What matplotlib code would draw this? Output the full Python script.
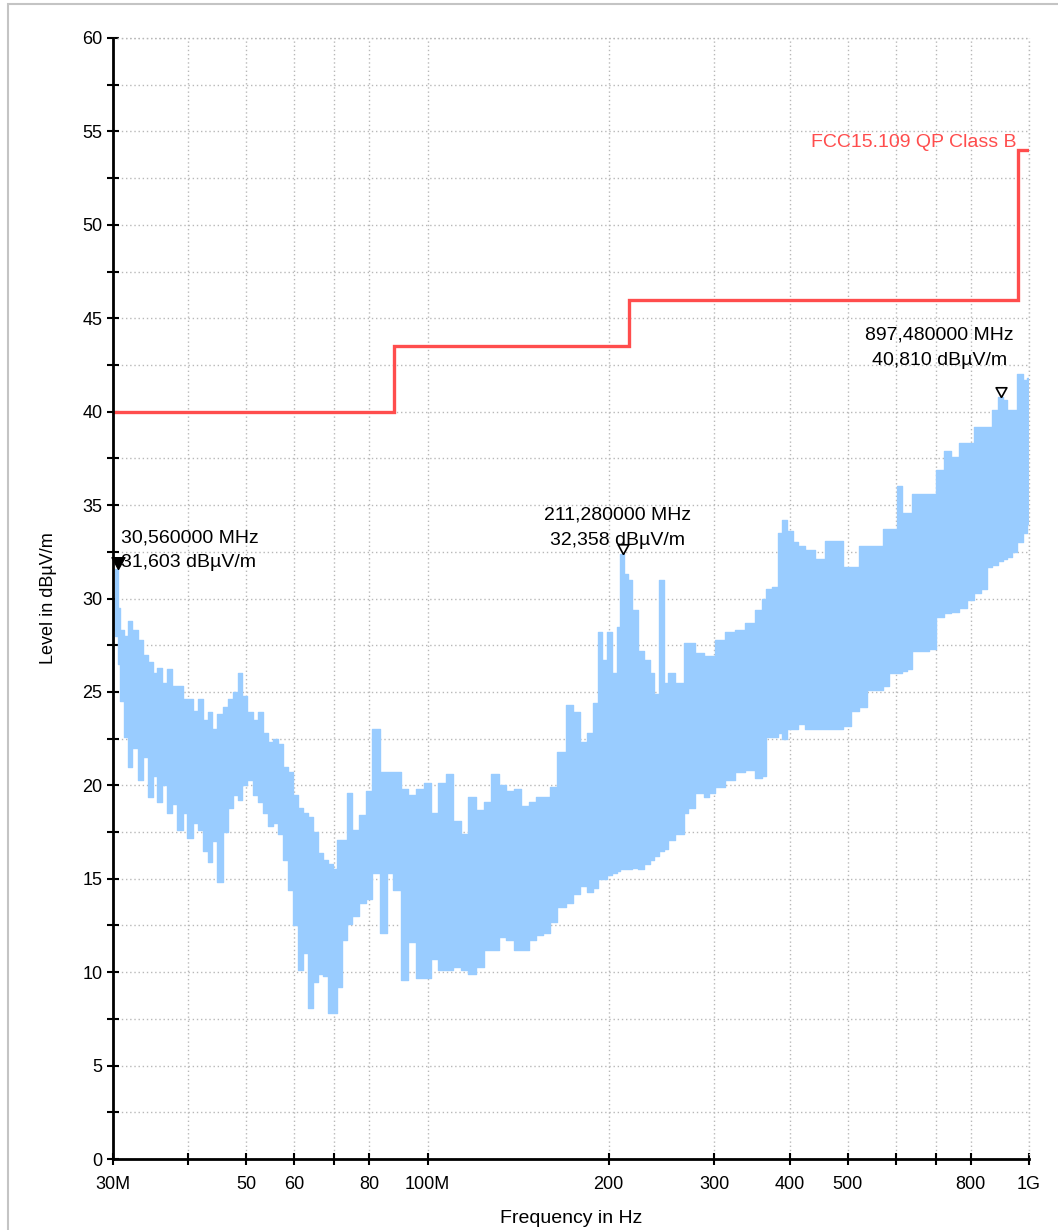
import matplotlib
matplotlib.use("Agg")
import matplotlib.pyplot as plt
from matplotlib.patches import Rectangle
from matplotlib.ticker import FixedLocator, NullFormatter

plt.rcParams['font.family'] = ['Liberation Sans', 'DejaVu Sans']

# ---- data (MHz, dBuV/m) ----
freq_mhz = [30.0, 30.5, 30.6, 31.0, 31.5, 32.0, 32.6, 33.3, 34.0, 34.6, 35.2, 35.9, 36.6, 37.3,
            38.0, 38.8, 39.5, 40.3, 41.1, 41.9, 42.7, 43.5, 44.3, 45.2, 46.1, 47.0, 47.9, 48.8,
            49.7, 50.7, 51.7, 52.7, 53.7, 54.7, 55.8, 56.9, 58.0, 59.1, 60.3, 61.4, 62.6, 63.8,
            65.0, 66.3, 67.6, 68.9, 70.2, 71.0, 72.9, 74.3, 75.7, 78.0, 79.9, 82.1, 84.4, 86.6,
            88.9, 91.7, 94.2, 97.2, 100.1, 102.9, 105.6, 109.0, 111.9, 115.2, 118.4, 122.3, 125.6,
            129.6, 133.2, 137.1, 141.0, 145.6, 149.1, 153.8, 157.9, 162.2, 166.6, 172.6, 176.8,
            181.6, 186.3, 190.2, 193.5, 197.1, 201.0, 205.0, 207.4, 211.28, 213.4, 217.0, 221.3,
            225.6, 231.8, 236.2, 239.0, 246.3, 248.3, 253.0, 262.9, 270.0, 273.1, 283.8, 291.5,
            294.9, 306.4, 318.3, 330.8, 343.7, 357.1, 363.9, 368.2, 378.2, 385.5, 392.9, 400.5,
            411.4, 416.1, 432.4, 449.3, 466.8, 485.0, 497.8, 513.7, 529.8, 544.0, 565.3, 576.2,
            594.6, 610.3, 621.9, 634.0, 646.2, 671.5, 692.4, 711.2, 730.6, 753.3, 776.7, 797.8,
            819.5, 844.9, 861.2, 877.8, 897.48, 912.1, 929.8, 947.7, 966.1, 984.8, 1000.0]
level_hi = [29.9, 31.6, 29.5, 28.3, 28.0, 28.8, 28.3, 27.8, 27.0, 26.6, 26.0, 26.3, 25.5, 26.2,
            25.3, 25.3, 24.6, 24.6, 24.0, 24.6, 23.5, 23.9, 23.0, 23.8, 24.2, 24.6, 25.0, 26.0,
            24.8, 23.9, 23.5, 23.9, 22.8, 22.3, 22.5, 22.2, 21.0, 20.7, 19.5, 18.8, 18.5, 18.3,
            17.5, 16.4, 16.0, 15.8, 15.5, 17.1, 17.1, 19.6, 17.6, 18.4, 19.7, 23.0, 20.7, 20.7,
            20.7, 19.8, 19.5, 19.8, 20.1, 18.5, 20.1, 20.6, 18.1, 17.4, 19.4, 18.7, 19.1,
            20.6, 20.0, 19.7, 19.8, 18.9, 19.1, 19.4, 19.4, 19.9, 21.8, 24.3, 23.9,
            22.3, 22.8, 24.4, 28.2, 26.7, 28.2, 26.0, 28.5, 32.36, 31.3, 31.0, 29.4,
            27.2, 26.7, 26.0, 24.9, 31.0, 25.5, 26.0, 25.5, 27.6, 27.6, 27.1, 26.9,
            26.9, 27.8, 28.2, 28.3, 28.7, 29.4, 30.0, 30.5, 30.6, 33.5, 34.2, 33.6,
            33.0, 32.8, 32.6, 32.1, 33.1, 33.1, 31.7, 31.7, 32.8, 32.8, 32.8, 33.7,
            33.7, 36.0, 34.6, 34.6, 35.6, 35.6, 35.6, 36.9, 37.9, 37.6, 38.3, 38.3,
            39.2, 39.2, 39.2, 40.1, 40.81, 40.6, 40.1, 40.1, 42.0, 41.7, 41.8]
level_lo = [28.3, 28.0, 26.5, 24.5, 22.6, 21.0, 22.0, 20.3, 21.5, 19.4, 20.5, 19.1, 20.0, 18.5,
            19.0, 17.6, 18.5, 17.2, 18.0, 17.6, 16.5, 15.9, 17.0, 14.8, 17.5, 18.8, 19.5, 19.2,
            20.0, 20.3, 19.5, 19.1, 18.5, 17.8, 18.0, 17.4, 16.0, 14.4, 12.5, 10.1, 11.0, 8.1,
            9.5, 9.9, 9.8, 7.8, 7.8, 9.2, 11.7, 12.6, 13.0, 13.7, 13.9, 15.3, 12.1, 15.3,
            14.4, 9.6, 11.6, 9.7, 9.7, 10.7, 10.1, 10.1, 10.3, 10.1, 9.9, 10.3, 11.2,
            11.2, 11.9, 11.7, 11.2, 11.2, 11.7, 12.0, 12.1, 12.7, 13.5, 13.7, 14.2,
            14.6, 14.3, 14.5, 15.0, 15.0, 15.2, 15.3, 15.4, 15.5, 15.5, 15.5, 15.6,
            15.5, 15.8, 16.0, 16.2, 16.5, 16.6, 17.1, 17.4, 18.5, 18.8, 19.6, 19.4,
            19.6, 19.9, 20.3, 20.7, 20.8, 20.4, 20.5, 22.6, 22.6, 22.8, 22.5, 23.0,
            23.0, 23.3, 23.0, 23.0, 23.0, 23.0, 23.2, 24.0, 24.2, 25.1, 25.1, 25.3,
            26.0, 26.0, 26.1, 26.2, 27.2, 27.2, 27.3, 29.0, 29.2, 29.3, 29.5, 29.9,
            30.3, 30.5, 31.7, 31.8, 32.0, 32.1, 32.2, 32.5, 33.0, 33.5, 34.0]

limit_freq = [30, 88, 88, 216, 216, 960, 960, 1000]
limit_level = [40, 40, 43.5, 43.5, 46, 46, 54, 54]
limit_name = "FCC15.109 QP Class B"

marker_freq = [30.56, 211.28, 897.48]
marker_level = [31.603, 32.358, 40.810]
marker_text = ["30,560000 MHz\n31,603 dB\u00b5V/m",
               "211,280000 MHz\n32,358 dB\u00b5V/m",
               "897,480000 MHz\n40,810 dB\u00b5V/m"]

xtick_vals = [30, 40, 50, 60, 70, 80, 100, 200, 300, 400, 500, 600, 700, 800, 1000]
xtick_labels = ['30M', '', '50', '60', '', '80', '100M', '200', '300', '400', '500', '', '', '800', '1G']
ytick_major = list(range(0, 61, 5))
ytick_minor = [2.5 + 5 * i for i in range(12)]

# ---- figure ----
fig = plt.figure(figsize=(10.58, 12.30), dpi=100)
fig.patches.append(Rectangle((8 / 1058, -0.01), 1.05, 1.01 - 4 / 1230,
                             transform=fig.transFigure, fill=False,
                             edgecolor='#c4c4c4', linewidth=1.5))
ax = fig.add_axes([113 / 1058, 1 - 1159 / 1230, (1029 - 113) / 1058, (1159 - 38) / 1230])

ax.set_xscale('log')
ax.set_xlim(30, 1000)
ax.set_ylim(0, 60)

ax.fill_between(freq_mhz, level_lo, level_hi, step='mid', color='#99ccff', linewidth=0, zorder=2)
ax.step(freq_mhz, level_hi, where='mid', color='#99ccff', linewidth=1, zorder=2)
ax.step(freq_mhz, level_lo, where='mid', color='#99ccff', linewidth=1, zorder=2)

ax.plot(limit_freq, limit_level, color='#ff4d4d', linewidth=2.4, zorder=3,
        solid_joinstyle='miter')
ax.annotate(limit_name, xy=(limit_freq[-2], limit_level[-1]), xytext=(-1.5, 2),
            textcoords='offset points', ha='right', va='baseline',
            color='#ff4d4d', fontsize=14)

tri = [(0, 0), (-0.55, 1), (0.55, 1), (0, 0)]
ax.plot(marker_freq[:1], marker_level[:1], linestyle='none', marker=tri, markersize=17,
        markerfacecolor='black', markeredgecolor='black', zorder=5, clip_on=False)
ax.plot(marker_freq[1:], marker_level[1:], linestyle='none', marker=tri, markersize=14,
        markerfacecolor='white', markeredgecolor='black', markeredgewidth=1.2, zorder=5)

txt_kw = dict(textcoords='offset points', fontsize=14, linespacing=1.6, zorder=6)
ax.annotate(marker_text[0], xy=(marker_freq[0], marker_level[0]), xytext=(2, 1),
            ha='left', va='baseline', **txt_kw)
ax.annotate(marker_text[1], xy=(marker_freq[1], marker_level[1]), xytext=(-4, 7),
            ha='center', va='baseline', **txt_kw)
ax.annotate(marker_text[2], xy=(marker_freq[2], marker_level[2]), xytext=(-44, 23),
            ha='center', va='baseline', **txt_kw)

# axes styling
for s in ['top', 'right']:
    ax.spines[s].set_visible(False)
for s in ['left', 'bottom']:
    ax.spines[s].set_linewidth(2)
    ax.spines[s].set_zorder(4)

ax.xaxis.set_major_locator(FixedLocator(xtick_vals))
ax.set_xticklabels(xtick_labels)
ax.xaxis.set_minor_locator(FixedLocator([]))
ax.xaxis.set_minor_formatter(NullFormatter())
ax.set_yticks(ytick_major)
ax.set_yticks(ytick_minor, minor=True)

ax.tick_params(axis='both', which='both', direction='inout', length=9, width=1.5,
               color='black', labelsize=13)
ax.tick_params(axis='x', pad=8)
ax.tick_params(axis='y', pad=3)

grid_style = dict(linestyle=(0, (1, 2)), color='#b8b8b8', linewidth=1)
ax.grid(True, which='both', axis='y', **grid_style)
ax.grid(True, which='major', axis='x', **grid_style)
ax.set_axisbelow(True)
ax.axhline(60, zorder=1, clip_on=False, **grid_style)
ax.axvline(1000, zorder=1, clip_on=False, **grid_style)

ax.set_xlabel('Frequency in Hz', fontsize=14, labelpad=12)
ax.set_ylabel('Level in dB\u00b5V/m', fontsize=13, labelpad=18)

fig.savefig('out.png', dpi=100)
